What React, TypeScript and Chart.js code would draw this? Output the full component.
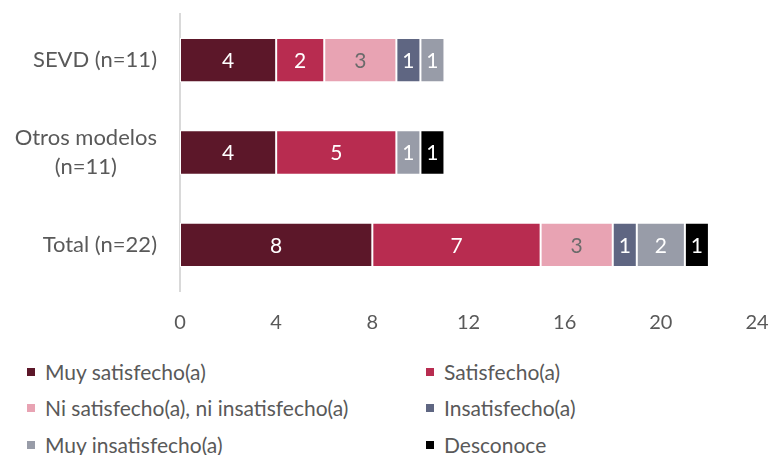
import React, { useEffect, useRef } from 'react';
import { Chart, registerables } from 'chart.js';

Chart.register(...registerables);

const categories: string[][] = [['SEVD (n=11)'], ['Otros modelos', '(n=11)'], ['Total (n=22)']];
const seriesNames = [
  'Muy satisfecho(a)',
  'Satisfecho(a)',
  'Ni satisfecho(a), ni insatisfecho(a)',
  'Insatisfecho(a)',
  'Muy insatisfecho(a)',
  'Desconoce',
];
const muySatisfecho = [4, 4, 8];
const satisfecho = [2, 5, 7];
const niSatisfecho = [3, 0, 3];
const insatisfecho = [1, 0, 1];
const muyInsatisfecho = [1, 1, 2];
const desconoce = [0, 1, 1];
const seriesValues = [muySatisfecho, satisfecho, niSatisfecho, insatisfecho, muyInsatisfecho, desconoce];
const seriesColors = ['#5C1729', '#B82C50', '#E8A3B3', '#5F6682', '#989CA8', '#000000'];
const labelColors = ['#FFFFFF', '#FFFFFF', '#6B6B6B', '#FFFFFF', '#FFFFFF', '#FFFFFF'];
const xTickValues = [0, 4, 8, 12, 16, 20, 24];

const FONT = 'Lato, "Open Sans", sans-serif';
const TEXT = '#595959';

const valueLabels = {
  id: 'valueLabels',
  afterDatasetsDraw(chart: any) {
    const ctx = chart.ctx;
    ctx.save();
    ctx.font = `21px ${FONT}`;
    ctx.textAlign = 'center';
    ctx.textBaseline = 'middle';
    chart.data.datasets.forEach((ds: any, di: number) => {
      const meta = chart.getDatasetMeta(di);
      meta.data.forEach((el: any, i: number) => {
        const v = ds.data[i];
        if (!v) return;
        const { x, y, base } = el.getProps(['x', 'y', 'base'], true);
        ctx.fillStyle = labelColors[di];
        ctx.fillText(String(v), (x + base) / 2, y + 1);
      });
    });
    ctx.restore();
  },
};

const categoryLabels = {
  id: 'categoryLabels',
  afterDraw(chart: any) {
    const ctx = chart.ctx;
    const yScale = chart.scales.y;
    ctx.save();
    ctx.font = `22px ${FONT}`;
    ctx.fillStyle = TEXT;
    ctx.textBaseline = 'middle';
    const rightX = yScale.right - 23;
    const lh = 29;
    categories.forEach((lines, i) => {
      const cy = yScale.getPixelForTick(i);
      const widths = lines.map((l) => ctx.measureText(l).width);
      const maxW = Math.max(...widths);
      const startY = cy - ((lines.length - 1) * lh) / 2;
      lines.forEach((l, j) => {
        ctx.textAlign = 'center';
        ctx.fillText(l, rightX - maxW / 2, startY + j * lh);
      });
    });
    ctx.restore();
  },
};

export default function App() {
  const canvasRef = useRef<HTMLCanvasElement>(null);

  useEffect(() => {
    document.body.style.margin = '0';
    const canvas = canvasRef.current;
    if (!canvas) return;
    const chart = new Chart(canvas, {
      type: 'bar',
      data: {
        labels: categories.map((c) => c.join(' ')),
        datasets: seriesNames.map((name, i) => ({
          label: name,
          data: seriesValues[i],
          backgroundColor: seriesColors[i],
          borderColor: '#FFFFFF',
          borderWidth: 1,
          borderSkipped: false,
          categoryPercentage: 1,
          barPercentage: 0.48,
        })),
      },
      options: {
        indexAxis: 'y',
        responsive: false,
        animation: false,
        layout: { padding: { top: 14, right: 16, left: 0, bottom: 0 } },
        plugins: {
          legend: { display: false },
          tooltip: { enabled: false },
        },
        scales: {
          x: {
            stacked: true,
            min: 0,
            max: 24,
            afterBuildTicks: (scale: any) => {
              scale.ticks = xTickValues.map((v) => ({ value: v }));
            },
            grid: { display: false, drawTicks: false },
            border: { display: false },
            ticks: {
              font: { family: FONT, size: 20 },
              color: TEXT,
              padding: 20,
              maxRotation: 0,
            },
            afterFit: (scale: any) => {
              scale.height = 50;
              scale.paddingLeft = 0;
              scale.paddingRight = 0;
            },
          },
          y: {
            stacked: true,
            grid: { display: false, drawTicks: false },
            border: { display: true, color: '#D9D9D9', width: 2 },
            ticks: { display: false },
            afterFit: (scale: any) => {
              scale.width = 180;
              scale.paddingTop = 0;
              scale.paddingBottom = 0;
            },
          },
        },
      },
      plugins: [valueLabels, categoryLabels],
    });
    return () => chart.destroy();
  }, []);

  const legendRows = [
    [0, 1],
    [2, 3],
    [4, 5],
  ];
  const rowCenters = [372, 408, 445];
  const colBoxX = [27, 426];

  return (
    <div style={{ position: 'relative', width: 773, height: 455, fontFamily: FONT, background: '#FFFFFF', overflow: 'hidden' }}>
      <canvas ref={canvasRef} width={773} height={341} style={{ display: 'block' }} />
      {legendRows.map((row, r) =>
        row.map((si, c) => (
          <div
            key={si}
            style={{
              position: 'absolute',
              left: colBoxX[c],
              top: rowCenters[r] - 13,
              height: 26,
              display: 'flex',
              alignItems: 'center',
              whiteSpace: 'nowrap',
              fontSize: 21,
              lineHeight: '26px',
              color: TEXT,
            }}
          >
            <span
              style={{
                display: 'inline-block',
                width: 8,
                height: 8,
                background: seriesColors[si],
                marginRight: 10,
              }}
            />
            <span>{seriesNames[si]}</span>
          </div>
        ))
      )}
    </div>
  );
}
